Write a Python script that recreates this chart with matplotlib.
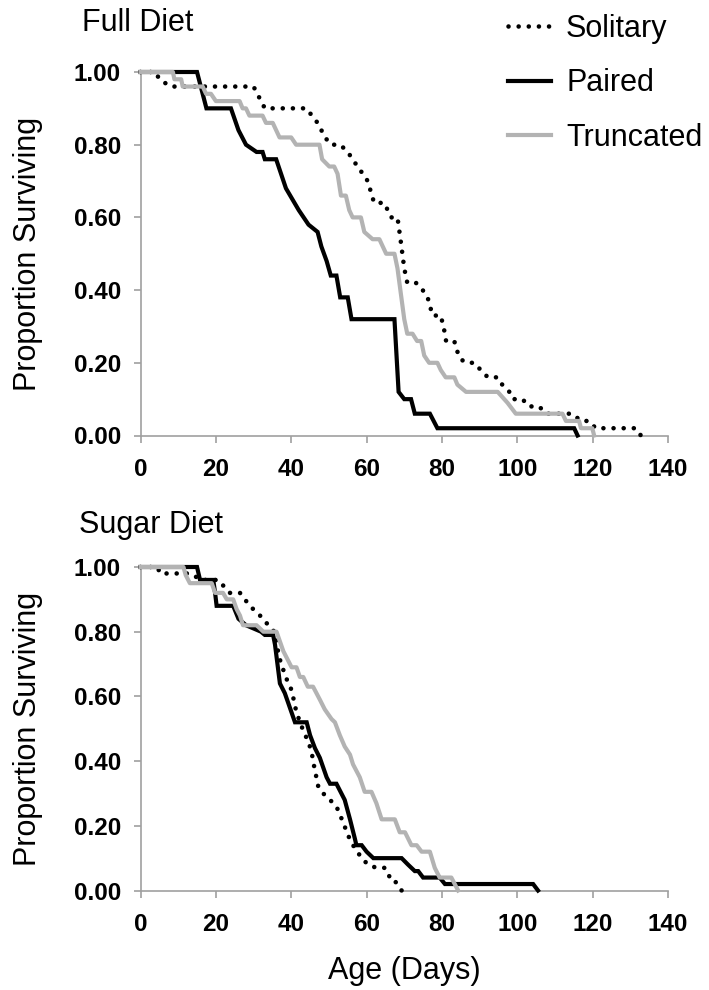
import matplotlib
matplotlib.use("Agg")
import matplotlib.pyplot as plt
from matplotlib.ticker import FuncFormatter

plt.rcParams['font.family'] = ['Liberation Sans', 'DejaVu Sans']

# ---------------- data ----------------
series_names = ["Solitary", "Paired", "Truncated"]
x_ticks = [0, 20, 40, 60, 80, 100, 120, 140]
y_ticks = [0.0, 0.2, 0.4, 0.6, 0.8, 1.0]

# Full diet
full_solitary_days = [0, 4, 5, 8, 30, 31, 32, 33, 44, 45.5, 47, 48, 49, 50.5, 53, 55, 56.3, 57.6, 59,
                      60.3, 62, 64.7, 65.6, 66.5, 68.2, 69, 70, 70.8, 73.1, 74.9, 76.2, 77, 77.5, 79.7,
                      80.6, 81.1, 83.3, 83.7, 85, 86.4, 88.6, 90.3, 92.2, 94.8, 96, 97.9, 98.8, 101.4,
                      103, 105.8, 107.6, 114.6, 116.9, 119.1, 120.8, 131.4, 132.8]
full_solitary_surv = [1.0, 1.0, 0.98, 0.96, 0.96, 0.94, 0.92, 0.90, 0.90, 0.88, 0.86, 0.84, 0.82, 0.80,
                      0.80, 0.78, 0.76, 0.74, 0.72, 0.70, 0.64, 0.64, 0.62, 0.60, 0.60, 0.54, 0.46, 0.42,
                      0.42, 0.40, 0.38, 0.35, 0.33, 0.33, 0.29, 0.26, 0.26, 0.24, 0.21, 0.20, 0.20, 0.18,
                      0.16, 0.16, 0.14, 0.12, 0.10, 0.10, 0.08, 0.08, 0.06, 0.06, 0.04, 0.04, 0.02,
                      0.02, 0.0]

full_paired_days = [0, 15, 16, 17.5, 24, 26, 28, 30.8, 32.4, 33, 36, 38.6, 42, 44.6, 47, 48, 49.4, 50.5,
                    52, 53, 55, 56, 67.4, 68.5, 70, 71.8, 72.8, 76.8, 78.8, 115.1, 116]
full_paired_surv = [1.0, 1.0, 0.96, 0.90, 0.90, 0.84, 0.80, 0.78, 0.78, 0.76, 0.76, 0.68, 0.62, 0.58,
                    0.56, 0.52, 0.48, 0.44, 0.44, 0.38, 0.38, 0.32, 0.32, 0.12, 0.10, 0.10, 0.06, 0.06,
                    0.02, 0.02, 0.0]

full_truncated_days = [0, 8.6, 9, 10.8, 11.2, 16.5, 17.4, 18.7, 20, 26.3, 27.1, 28, 28.9, 32.4, 33.3,
                       35.1, 36, 36.9, 40, 41.3, 47.5, 48.2, 50.1, 51.4, 52.3, 53.2, 54.5, 55.4, 56.3,
                       58.5, 59.4, 61.6, 63.4, 65.2, 67.4, 68.2, 70, 70.8, 72.2, 73.4, 74.5, 75.3, 76.6,
                       78.8, 79.7, 81, 83.3, 84.1, 86.4, 94.8, 97.4, 99.6, 112, 112.9, 116.4, 116.9,
                       119.9, 120.4]
full_truncated_surv = [1.0, 1.0, 0.98, 0.98, 0.96, 0.96, 0.94, 0.94, 0.92, 0.92, 0.90, 0.90, 0.88, 0.88,
                       0.86, 0.86, 0.84, 0.82, 0.82, 0.80, 0.80, 0.76, 0.74, 0.74, 0.72, 0.66, 0.66,
                       0.62, 0.60, 0.60, 0.56, 0.54, 0.54, 0.50, 0.50, 0.46, 0.32, 0.28, 0.28, 0.26,
                       0.26, 0.22, 0.20, 0.20, 0.18, 0.16, 0.16, 0.14, 0.12, 0.12, 0.09, 0.06, 0.06,
                       0.04, 0.04, 0.02, 0.02, 0.0]

# Sugar diet
sugar_solitary_days = [0, 4.5, 5.2, 13.1, 16.2, 20.6, 23.7, 26.4, 27.7, 29, 30.8, 32.6, 33.9, 35.5, 36.5,
                       37.3, 38.3, 39.2, 40.1, 41.4, 43, 44.5, 45.4, 45.8, 47.2, 48.5, 50.3, 52, 53.8,
                       55.1, 56.4, 58.7, 60.4, 62.6, 64.9, 66.2, 67.1, 68, 69.3]
sugar_solitary_surv = [1.0, 1.0, 0.98, 0.98, 0.96, 0.96, 0.92, 0.92, 0.90, 0.88, 0.86, 0.84, 0.82, 0.80,
                       0.74, 0.70, 0.67, 0.64, 0.62, 0.55, 0.50, 0.46, 0.43, 0.40, 0.32, 0.30, 0.28,
                       0.26, 0.21, 0.17, 0.14, 0.10, 0.08, 0.07, 0.07, 0.04, 0.04, 0.02, 0.0]

sugar_paired_days = [0, 15, 15.8, 19.3, 19.8, 20.2, 24.6, 26, 28, 32, 33, 35.2, 35.7, 37, 38.3, 40.1, 41,
                     44.1, 45, 46.3, 47.6, 49.4, 50.3, 52, 54.2, 55.6, 56.9, 57.3, 58.7, 60, 61.8, 69.3,
                     71, 72.8, 73.7, 75, 79.4, 80.8, 104.2, 105.5]
sugar_paired_surv = [1.0, 1.0, 0.96, 0.96, 0.92, 0.88, 0.88, 0.84, 0.82, 0.80, 0.79, 0.79, 0.76, 0.64,
                     0.61, 0.55, 0.52, 0.52, 0.48, 0.44, 0.41, 0.35, 0.33, 0.33, 0.28, 0.22, 0.16, 0.14,
                     0.14, 0.12, 0.10, 0.10, 0.08, 0.06, 0.06, 0.04, 0.04, 0.02, 0.02, 0.0]

sugar_truncated_days = [0, 11.4, 12, 13.1, 18.9, 19.8, 21.9, 22.9, 24.6, 25.5, 26.4, 27.2, 30.8, 32.6,
                        36.1, 37.9, 40.1, 41.4, 42.3, 43.2, 44.4, 45.8, 47.6, 48.9, 50.7, 51.6, 52.9,
                        54.2, 55.6, 56.4, 58.2, 59.5, 61.3, 62.6, 64, 67.5, 68.8, 70.2, 71.9, 73.3,
                        74.6, 76.8, 78.1, 79.4, 82.5, 83.4, 84.3]
sugar_truncated_surv = [1.0, 1.0, 0.975, 0.95, 0.95, 0.92, 0.92, 0.90, 0.90, 0.87, 0.85, 0.82, 0.82,
                        0.80, 0.80, 0.74, 0.69, 0.69, 0.66, 0.66, 0.63, 0.63, 0.59, 0.56, 0.53, 0.52,
                        0.48, 0.445, 0.42, 0.39, 0.35, 0.305, 0.305, 0.27, 0.22, 0.22, 0.18, 0.18, 0.14,
                        0.14, 0.12, 0.12, 0.07, 0.04, 0.04, 0.02, 0.0]

panel_titles = ["Full Diet", "Sugar Diet"]
y_label = "Proportion Surviving"
x_label = "Age (Days)"

# ---------------- figure ----------------
W, H = 709, 990
fig = plt.figure(figsize=(W / 100, H / 100), dpi=100)

def fx(px):
    return px / W

def fy(py):
    return 1 - py / H

ax_left, ax_right = 140.5, 668
ax_top = fig.add_axes([fx(ax_left), fy(435.5), fx(ax_right) - fx(ax_left), (435.5 - 72) / H])
ax_bot = fig.add_axes([fx(ax_left), fy(890.5), fx(ax_right) - fx(ax_left), (890.5 - 567) / H])

axis_gray = "#a0a0a0"
styles = {
    "Solitary": dict(color="black", lw=3.3, linestyle=(0, (0.01, 2.2)), dash_capstyle="round", zorder=3),
    "Paired": dict(color="black", lw=3.0, solid_joinstyle="miter", zorder=4),
    "Truncated": dict(color="#b3b3b3", lw=3.0, zorder=5),
}

panels = [
    (ax_top, [(full_solitary_days, full_solitary_surv),
              (full_paired_days, full_paired_surv),
              (full_truncated_days, full_truncated_surv)]),
    (ax_bot, [(sugar_solitary_days, sugar_solitary_surv),
              (sugar_paired_days, sugar_paired_surv),
              (sugar_truncated_days, sugar_truncated_surv)]),
]

handles = []
for i, (ax, data) in enumerate(panels):
    for name, (xs, ys) in zip(series_names, data):
        ln, = ax.plot(xs, ys, label=name, clip_on=False, **styles[name])
        if i == 0:
            handles.append(ln)
    ax.set_xlim(0, 140)
    ax.set_ylim(0, 1.0)
    ax.set_xticks(x_ticks)
    ax.set_yticks(y_ticks)
    ax.yaxis.set_major_formatter(FuncFormatter(lambda v, p: f"{v:.2f}"))
    ax.xaxis.set_major_formatter(FuncFormatter(lambda v, p: f"{int(round(v))}"))
    for s in ["top", "right"]:
        ax.spines[s].set_visible(False)
    for s in ["left", "bottom"]:
        ax.spines[s].set_color(axis_gray)
        ax.spines[s].set_linewidth(1.2)
    ax.tick_params(axis="both", direction="out", length=5, width=1.2, color=axis_gray,
                   labelsize=17.5)
    ax.tick_params(axis="y", pad=9)
    ax.tick_params(axis="x", pad=11)
    for lab in ax.get_xticklabels() + ax.get_yticklabels():
        lab.set_fontweight("bold")

# titles
fig.text(fx(82), fy(23), panel_titles[0], fontsize=22, ha="left", va="center")
fig.text(fx(79), fy(525), panel_titles[1], fontsize=22, ha="left", va="center")

# y labels
fig.text(fx(28), fy((72 + 435.5) / 2), y_label, fontsize=22, rotation=90, ha="center", va="center")
fig.text(fx(28), fy((567 + 890.5) / 2), y_label, fontsize=22, rotation=90, ha="center", va="center")

# x label
fig.text(fx((ax_left + ax_right) / 2), fy(971), x_label, fontsize=22, ha="center", va="center")

# legend
fig.legend(handles, series_names, loc="upper left", bbox_to_anchor=(fx(508), fy(14)),
           bbox_transform=fig.transFigure, frameon=False, fontsize=22, handlelength=1.4,
           handletextpad=0.5, labelspacing=0.8, borderpad=0, borderaxespad=0)

fig.savefig("out.png", dpi=100)
